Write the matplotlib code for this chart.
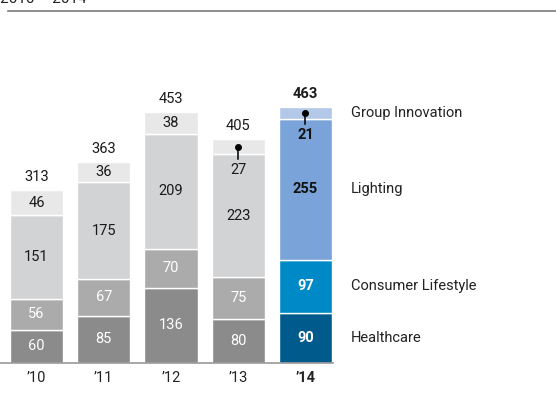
import matplotlib.pyplot as plt
from matplotlib.lines import Line2D

plt.rcParams['font.family'] = ['Roboto', 'DejaVu Sans']

years = ["’10", "’11", "’12", "’13", "’14"]
sectors = ["Healthcare", "Consumer Lifestyle", "Lighting", "Group Innovation"]
healthcare = [60, 85, 136, 80, 90]
consumer = [56, 67, 70, 75, 97]
lighting = [151, 175, 209, 223, 255]
innovation = [46, 36, 38, 27, 21]
totals = [313, 363, 453, 405, 463]

grey_colors = ["#8b8b8b", "#ababab", "#d2d3d5", "#e8e8e9"]
blue_colors = ["#005a8c", "#0089c7", "#7aa3d9", "#b3c8e9"]
grey_text = ["white", "white", "#1a1a1a", "#1a1a1a"]

W, H = 556, 396
FS = 10.5
fig = plt.figure(figsize=(W / 100, H / 100), dpi=100)

# px -> data mapping: bar pitch 67.25 px, 0.553 px per unit
left_px, right_px = 0, 333
base_px, top_px = 363, 100
ax = fig.add_axes([left_px / W, (H - base_px) / H,
                   (right_px - left_px) / W, (base_px - top_px) / H])
x0 = -36.5 / 67.25
ax.set_xlim(x0, x0 + (right_px - left_px) / 67.25)
ax.set_ylim(0, (base_px - top_px) / 0.553)

series = [healthcare, consumer, lighting, innovation]
n = len(years)
bottoms = [0] * n
for s, vals in enumerate(series):
    for i in range(n):
        last = i == n - 1
        color = blue_colors[s] if last else grey_colors[s]
        ax.bar(i, vals[i], bottom=bottoms[i], width=0.79, color=color,
               edgecolor="white", linewidth=1.0)
        weight = "bold" if last else "normal"
        if last:
            tcolor = "white" if s < 2 else "#111111"
        else:
            tcolor = grey_text[s]
        if s == 3 and vals[i] < 30:
            # small segment: pin label down into the segment below
            yc = bottoms[i] + vals[i] / 2
            ax.plot([i, i], [yc, bottoms[i] - 10], color="black", lw=1.1)
            ax.plot(i, yc, "o", color="black", ms=4)
            ax.text(i, bottoms[i] - 29, str(vals[i]), ha="center", va="center",
                    fontsize=FS, color=tcolor, fontweight=weight)
        else:
            ax.text(i, bottoms[i] + vals[i] / 2, str(vals[i]), ha="center",
                    va="center", fontsize=FS, color=tcolor, fontweight=weight)
        bottoms[i] += vals[i]

for i, t in enumerate(totals):
    ax.annotate(str(t), (i, bottoms[i]), xytext=(0, 9.5), textcoords="offset points",
                ha="center", va="center", fontsize=FS, color="#1a1a1a",
                fontweight="bold" if i == n - 1 else "normal")

# sector names next to the last bar
lb = 0
label_x = (351 - 36.5) / 67.25
for s, vals in enumerate(series):
    ax.text(label_x, lb + vals[-1] / 2, sectors[s], ha="left", va="center",
            fontsize=FS, color="#222222", clip_on=False)
    lb += vals[-1]

ax.set_xticks(range(n))
ax.set_xticklabels(years, fontsize=FS, color="#222222")
ax.get_xticklabels()[-1].set_fontweight("bold")
ax.tick_params(axis="x", length=0, pad=6)
ax.set_yticks([])
for side in ["left", "right", "top"]:
    ax.spines[side].set_visible(False)
ax.spines["bottom"].set_color("#9a9a9a")
ax.spines["bottom"].set_linewidth(1.2)

# header: year range above a rule
fig.text(0.0, 1 - 3 / H, "2010 – 2014", ha="left", va="baseline",
         fontsize=11, color="#222222")
fig.add_artist(Line2D([8 / W, 1], [1 - 11 / H, 1 - 11 / H],
                      transform=fig.transFigure, color="#7a7a7a", lw=1.2))

fig.savefig("out.png", dpi=100)
